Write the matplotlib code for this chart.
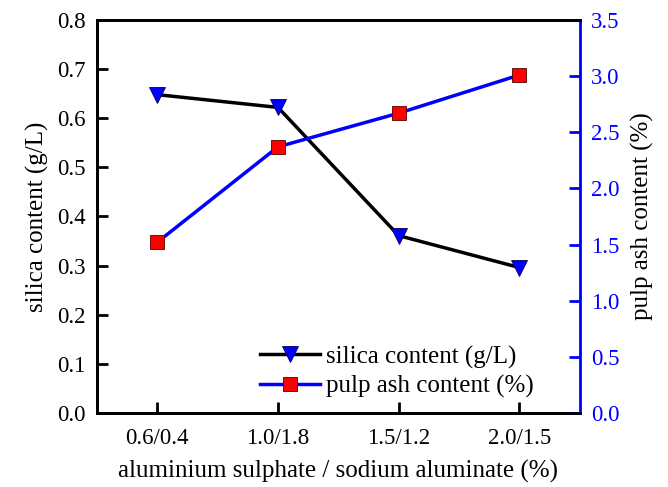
import matplotlib
matplotlib.use("Agg")
import matplotlib.pyplot as plt
from matplotlib.lines import Line2D

plt.rcParams["font.family"] = ["Liberation Serif", "DejaVu Serif"]

categories = ["0.6/0.4", "1.0/1.8", "1.5/1.2", "2.0/1.5"]
silica = [0.648, 0.622, 0.361, 0.296]
pulp_ash = [1.52, 2.37, 2.67, 3.01]

BLUE = "#0000ff"

fig = plt.figure(figsize=(6.68, 4.87), dpi=100)
ax = fig.add_axes([0.145, 0.152, 0.723, 0.807])
ax2 = ax.twinx()

x = list(range(len(categories)))
ax.plot(x, silica, color="black", linewidth=2.5, marker="v", markersize=11,
        markerfacecolor=BLUE, markeredgecolor="#000055", markeredgewidth=0.6, zorder=3)
ax2.plot(x, pulp_ash, color=BLUE, linewidth=2.5, marker="s", markersize=9.5,
         markerfacecolor="red", markeredgecolor="#550000", markeredgewidth=0.6, zorder=3)

ax.set_xlim(-0.5, 3.5)
ax.set_ylim(0, 0.8)
ax2.set_ylim(0, 3.5)
ax.set_xticks(x)
ax.set_xticklabels(categories)
ax.set_yticks([i / 10 for i in range(9)])
ax.set_yticklabels([f"{i / 10:.1f}" for i in range(9)])
ax2.set_yticks([i / 2 for i in range(8)])
ax2.set_yticklabels([f"{i / 2:.1f}" for i in range(8)])

ax.tick_params(axis="both", direction="in", length=8, width=2, labelsize=16.5, pad=8)
ax.tick_params(axis="x", pad=11)
ax2.tick_params(axis="y", direction="in", length=8, width=2, labelsize=16.5,
                colors=BLUE, pad=8)

for s in ["left", "bottom", "top"]:
    ax.spines[s].set_linewidth(2)
    ax2.spines[s].set_linewidth(2)
ax2.spines["right"].set_linewidth(2)
ax2.spines["right"].set_color(BLUE)
ax.spines["right"].set_visible(False)

ax.set_xlabel("aluminium sulphate / sodium aluminate (%)", fontsize=18, labelpad=8)
ax.set_ylabel("silica content (g/L)", fontsize=18, labelpad=6)
ax2.set_ylabel("pulp ash content (%)", fontsize=18, labelpad=8)

handles = [
    Line2D([], [], color="black", linewidth=2.5, marker="v", markersize=11,
           markerfacecolor=BLUE, markeredgecolor="#000055", markeredgewidth=0.6),
    Line2D([], [], color=BLUE, linewidth=2.5, marker="s", markersize=9.5,
           markerfacecolor="red", markeredgecolor="#550000", markeredgewidth=0.6),
]
ax2.legend(handles, ["silica content (g/L)", "pulp ash content (%)"],
           loc="lower right", bbox_to_anchor=(0.951, -0.019), frameon=False,
           fontsize=18, handlelength=2.4, handletextpad=0.25, labelspacing=0.25)

fig.savefig("out.png", dpi=100)
